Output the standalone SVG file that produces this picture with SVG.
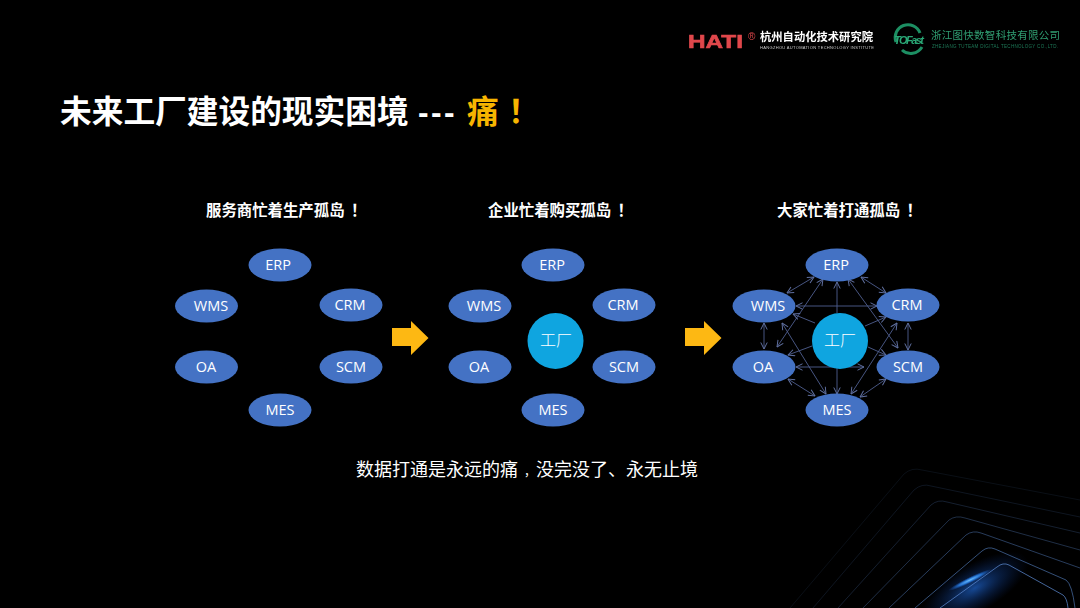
<svg xmlns="http://www.w3.org/2000/svg" width="1080" height="608" viewBox="0 0 1080 608">
<style>
text{font-family:"Noto Sans CJK SC","Noto Sans",sans-serif}
.n{fill:#4472c4}
.l{fill:#fff;font-size:14.5px;text-anchor:middle;font-family:"Open Sans","Noto Sans",sans-serif}
.f{fill:#0fa5e0}
.ft{fill:#fff;font-size:16px;font-weight:300;text-anchor:middle}
.h{fill:#fff;font-size:15.4px;font-weight:700}
.c{stroke:#4f5f90;stroke-width:.9;fill:none;marker-start:url(#a);marker-end:url(#a)}
.o{stroke:#4f5f90;stroke-width:.9;fill:none;marker-end:url(#a)}
.y{fill:#fdb813}
.d{fill:none;stroke:#5f8fd8;stroke-width:1;stroke-linejoin:round}
</style>
<defs>
<marker id="a" viewBox="0 0 8 8" refX="7.5" refY="4" markerWidth="8" markerHeight="8" markerUnits="userSpaceOnUse" orient="auto-start-reverse"><path d="M1 .8L7.5 4L1 7.2" fill="none" stroke="#5f6f9f" stroke-width="1"/></marker>
<radialGradient id="g"><stop offset="0" stop-color="#1e62c8" stop-opacity=".75"/><stop offset=".5" stop-color="#12408f" stop-opacity=".4"/><stop offset="1" stop-color="#0a2a70" stop-opacity="0"/></radialGradient>
<radialGradient id="s"><stop offset="0" stop-color="#6fc0ff"/><stop offset=".5" stop-color="#2b86f0" stop-opacity=".8"/><stop offset="1" stop-color="#1a5cc8" stop-opacity="0"/></radialGradient>
<filter id="b" x="-10%" y="-10%" width="120%" height="120%"><feGaussianBlur stdDeviation=".35"/></filter>
</defs>
<rect width="1080" height="608" fill="#000"/>

<g id="decoration">
<ellipse cx="975" cy="588" rx="60" ry="24" transform="rotate(-30 975 588)" fill="url(#g)"/>
<ellipse cx="970" cy="580" rx="24" ry="3" transform="rotate(-26 970 580)" fill="url(#s)"/>
<path class="d" opacity=".7" d="M940 608L997 567Q1003 562 1009 565L1063 595Q1067 598 1068 608"/>
<path class="d" opacity=".55" d="M915 608L982 551Q988 546 995 549L1066 580Q1072 584 1075 608"/>
<path class="d" opacity=".42" d="M889 608L966 535Q973 530 981 533L1080 568"/>
<path class="d" opacity=".32" d="M863 608L949 520Q956 515 965 518L1080 550"/>
<path class="d" opacity=".22" d="M838 608L931 505Q938 499 947 502L1080 533"/>
<path class="d" opacity=".15" d="M813 608L914 490Q922 483 931 486L1080 517"/>
<path class="d" opacity=".1" d="M790 608L904 474Q912 467 922 470L1080 500"/>
</g>

<g id="logos" filter="url(#b)">
<text x="688" y="48" font-size="19" font-weight="700" fill="#e0474c" style="font-family:'Liberation Sans',sans-serif;stroke:#e0474c;stroke-width:.6" textLength="55" lengthAdjust="spacingAndGlyphs">HATI</text>
<text x="748" y="40" font-size="10" fill="#e0474c" style="font-family:'Liberation Sans',sans-serif">®</text>
<text x="760" y="41" font-size="11.3" font-weight="700" fill="#fff">杭州自动化技术研究院</text>
<text x="760" y="49" font-size="4" fill="#ccc" style="font-family:'Liberation Sans',sans-serif" textLength="114">HANGZHOU AUTOMATION TECHNOLOGY INSTITUTE</text>
<path d="M896 42A12 12 0 0 1 920 33" fill="none" stroke="#1f8f63" stroke-width="3"/>
<path d="M902 50A13 13 0 0 0 922 47" fill="none" stroke="#1f8f63" stroke-width="3"/>
<text x="894" y="44" font-size="11" font-weight="700" font-style="italic" fill="#2aa876" style="font-family:'Liberation Sans',sans-serif" textLength="30">TOFast</text>
<text x="931" y="39" font-size="10.5" fill="#2f9e72" textLength="129">浙江图快数智科技有限公司</text>
<text x="932" y="48" font-size="4.5" fill="#1f7a58" style="font-family:'Liberation Sans',sans-serif" textLength="126">ZHEJIANG TUTEAM DIGITAL TECHNOLOGY CO.,LTD.</text>
</g>

<text id="title" y="123" font-size="31.700" font-weight="700" fill="#fff"><tspan x="60">未来工厂建设的现实困境</tspan><tspan x="418" letter-spacing="2.500" style="font-family:'Liberation Sans',sans-serif">---</tspan><tspan x="467" fill="#f7b500">痛</tspan><tspan x="508" fill="#f7b500">！</tspan></text>

<text class="h" y="216"><tspan x="206">服务商忙着生产孤岛</tspan><tspan x="351">！</tspan></text>
<text class="h" y="216"><tspan x="488">企业忙着购买孤岛</tspan><tspan x="617.500">！</tspan></text>
<text class="h" y="216"><tspan x="777">大家忙着打通孤岛</tspan><tspan x="906.500">！</tspan></text>

<g id="connectors">
<path class="c" d="M814 277L787 293"/>
<path class="c" d="M861 277L886 293"/>
<path class="c" d="M764 323L764 349"/>
<path class="c" d="M908 323L908 350"/>
<path class="c" d="M788 379L815 396"/>
<path class="c" d="M886 379L860 397"/>
<path class="c" d="M796 306L877 306"/>
<path class="c" d="M796 367L864 367"/>
<path class="c" d="M823 279L777 347"/>
<path class="c" d="M848 279L898 348"/>
<path class="c" d="M782 323L826 394"/>
<path class="c" d="M897 323L851 394"/>
<path class="o" d="M837 313L837 282"/>
<path class="o" d="M837 368L837 394"/>
<path class="o" d="M815 323L793 314"/>
<path class="o" d="M865 326L886 317"/>
<path class="o" d="M812 346L788 355"/>
<path class="o" d="M868 347L886 355"/>
</g>

<g id="a-erp"><ellipse class="n" cx="280" cy="265" rx="31.500" ry="16.500"/><text class="l" x="278" y="270">ERP</text></g>
<g id="a-wms"><ellipse class="n" cx="206.500" cy="306" rx="31.500" ry="16.500"/><text class="l" x="211" y="311">WMS</text></g>
<g id="a-crm"><ellipse class="n" cx="351" cy="305" rx="31.500" ry="16.500"/><text class="l" x="350" y="310">CRM</text></g>
<g id="a-oa"><ellipse class="n" cx="206.500" cy="367" rx="31.500" ry="16.500"/><text class="l" x="206" y="372">OA</text></g>
<g id="a-scm"><ellipse class="n" cx="351" cy="367" rx="31.500" ry="16.500"/><text class="l" x="351" y="372">SCM</text></g>
<g id="a-mes"><ellipse class="n" cx="280" cy="410" rx="31.500" ry="16.500"/><text class="l" x="280" y="415">MES</text></g>

<g id="b-erp"><ellipse class="n" cx="553" cy="265" rx="31.500" ry="16.500"/><text class="l" x="552" y="270">ERP</text></g>
<g id="b-wms"><ellipse class="n" cx="480" cy="306" rx="31.500" ry="16.500"/><text class="l" x="484" y="311">WMS</text></g>
<g id="b-crm"><ellipse class="n" cx="624" cy="305" rx="31.500" ry="16.500"/><text class="l" x="623" y="310">CRM</text></g>
<g id="b-oa"><ellipse class="n" cx="480" cy="367" rx="31.500" ry="16.500"/><text class="l" x="479" y="372">OA</text></g>
<g id="b-scm"><ellipse class="n" cx="624" cy="367" rx="31.500" ry="16.500"/><text class="l" x="624" y="372">SCM</text></g>
<g id="b-mes"><ellipse class="n" cx="553" cy="410" rx="31.500" ry="16.500"/><text class="l" x="553" y="415">MES</text></g>
<g id="b-factory"><circle class="f" cx="555.500" cy="341" r="28"/><text class="ft" x="556" y="346">工厂</text></g>

<g id="c-erp"><ellipse class="n" cx="837" cy="265" rx="31.500" ry="16.500"/><text class="l" x="836" y="270">ERP</text></g>
<g id="c-wms"><ellipse class="n" cx="764" cy="306" rx="31.500" ry="16.500"/><text class="l" x="768" y="311">WMS</text></g>
<g id="c-crm"><ellipse class="n" cx="908" cy="305" rx="31.500" ry="16.500"/><text class="l" x="907" y="310">CRM</text></g>
<g id="c-oa"><ellipse class="n" cx="764" cy="367" rx="31.500" ry="16.500"/><text class="l" x="763" y="372">OA</text></g>
<g id="c-scm"><ellipse class="n" cx="908" cy="367" rx="31.500" ry="16.500"/><text class="l" x="908" y="372">SCM</text></g>
<g id="c-mes"><ellipse class="n" cx="837" cy="410" rx="31.500" ry="16.500"/><text class="l" x="837" y="415">MES</text></g>
<g id="c-factory"><circle class="f" cx="840" cy="341" r="28"/><text class="ft" x="840" y="346">工厂</text></g>

<path id="arrow1" class="y" d="M392 328H411V321L428.500 338L411 355V346H392Z"/>
<path id="arrow2" class="y" d="M685 328H704V321L721.500 338L704 355V346H685Z"/>

<text id="caption" y="476" font-size="18" fill="#fff"><tspan x="356">数据打通是永远的痛</tspan><tspan x="524" font-size="12">，</tspan><tspan x="536">没完没了、永无止境</tspan></text>
</svg>
